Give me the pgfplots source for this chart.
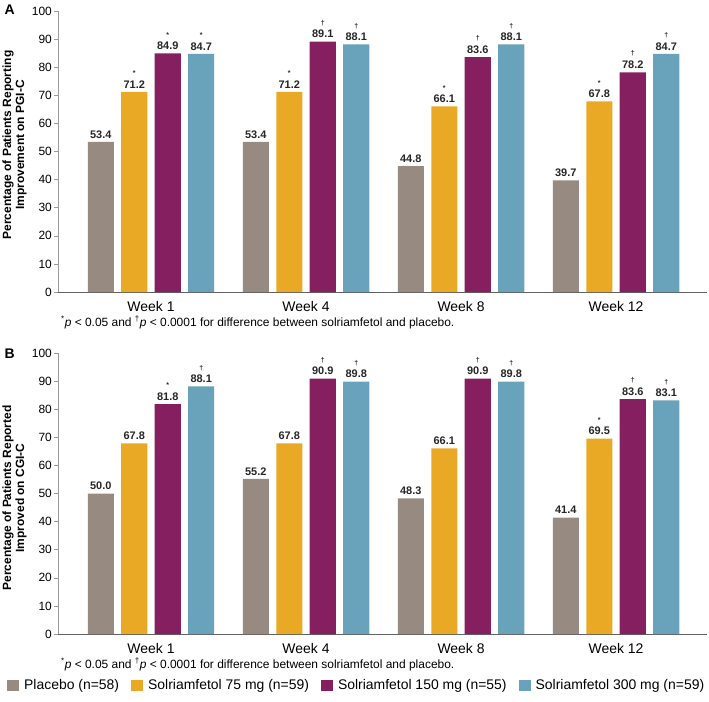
\documentclass[border=0pt]{standalone}
\usepackage{fontspec}
\setmainfont{Liberation Sans}
\usepackage{pgfplots}
\usepackage{pgfplotstable}
\pgfplotsset{compat=1.18}

\definecolor{cpla}{HTML}{978B81}
\definecolor{cse}{HTML}{E9A924}
\definecolor{cone}{HTML}{861F5F}
\definecolor{cthr}{HTML}{68A3BB}

% sig columns: 0 = no mark, 1 = *, 2 = dagger
\pgfplotstableread{
x p ps a as b bs c cs
0 53.4 0 71.2 1 84.9 1 84.7 1
1 53.4 0 71.2 1 89.1 2 88.1 2
2 44.8 0 66.1 1 83.6 2 88.1 2
3 39.7 0 67.8 1 78.2 2 84.7 2
}\tabA

\pgfplotstableread{
x p ps a as b bs c cs
0 50.0 0 67.8 0 81.8 1 88.1 2
1 55.2 0 67.8 0 90.9 2 89.8 2
2 48.3 0 66.1 0 90.9 2 89.8 2
3 41.4 0 69.5 1 83.6 2 83.1 2
}\tabB

\newcommand\sigline{{\fontsize{7}{7}\selectfont\ifdim\sig pt<0.5pt\relax\else\ifdim\sig pt<1.5pt *\else †\fi\fi}}

\pgfplotsset{
  panel/.style={
    scale only axis, width=649bp, height=281bp,
    xmin=-0.6, xmax=3.587, ymin=0, ymax=100,
    axis x line*=bottom, axis y line*=left,
    clip=false,
    ytick={0,10,...,100},
    xtick={0,1,2,3}, xticklabels={Week 1,Week 4,Week 8,Week 12},
    x axis line style={draw=black!62, line width=0.9pt},
    y axis line style={draw=black!40, line width=0.6pt},
    ytick style={draw=black!40, line width=0.6pt},
    xtick style={draw=none},
    tick align=outside, major tick length=4bp,
    /pgf/number format/assume math mode=true,
    yticklabel style={font=\fontsize{12}{14}\selectfont, inner sep=2bp},
    xticklabel style={font=\fontsize{14}{16}\selectfont, anchor=base, yshift=-15bp},
    ybar, bar width=0.168,
    nodes near coords={\sigline\\\pgfmathprintnumber[fixed,fixed zerofill,precision=1]{\pgfplotspointmeta}},
    every node near coord/.append style={font=\fontsize{11}{12.5}\selectfont\bfseries, align=center, anchor=south, inner sep=0pt, yshift=3.5bp, text=black!85},
  },
}

\begin{document}
\begin{tikzpicture}[x=1bp,y=1bp]
\path[use as bounding box] (0,0) rectangle (709,-702);

\begin{axis}[panel, at={(58bp,-292bp)}, anchor=south west]
\addplot[fill=cpla, draw=none, bar shift=-0.324, visualization depends on={\thisrow{ps}\as\sig}] table[x=x,y=p]{\tabA};
\addplot[fill=cse, draw=none, bar shift=-0.108, visualization depends on={\thisrow{as}\as\sig}] table[x=x,y=a]{\tabA};
\addplot[fill=cone, draw=none, bar shift=0.108, visualization depends on={\thisrow{bs}\as\sig}] table[x=x,y=b]{\tabA};
\addplot[fill=cthr, draw=none, bar shift=0.324, visualization depends on={\thisrow{cs}\as\sig}] table[x=x,y=c]{\tabA};
\end{axis}

\begin{axis}[panel, at={(58bp,-634bp)}, anchor=south west,
  legend columns=4,
  legend image code/.code={\fill[#1] (0bp,-5.5bp) rectangle (12bp,5.5bp);},
  legend style={at={(-0.0786,-0.183)}, anchor=west, draw=none, fill=none, inner sep=0pt,
    font=\fontsize{14}{16}\selectfont, legend cell align=left,
    /tikz/every odd column/.append style={column sep=3bp},
    /tikz/every even column/.append style={column sep=10bp}},
  ]
\addplot[fill=cpla, draw=none, bar shift=-0.324, visualization depends on={\thisrow{ps}\as\sig}] table[x=x,y=p]{\tabB};
\addplot[fill=cse, draw=none, bar shift=-0.108, visualization depends on={\thisrow{as}\as\sig}] table[x=x,y=a]{\tabB};
\addplot[fill=cone, draw=none, bar shift=0.108, visualization depends on={\thisrow{bs}\as\sig}] table[x=x,y=b]{\tabB};
\addplot[fill=cthr, draw=none, bar shift=0.324, visualization depends on={\thisrow{cs}\as\sig}] table[x=x,y=c]{\tabB};
\legend{Placebo (n=58), Solriamfetol 75 mg (n=59), Solriamfetol 150 mg (n=55), Solriamfetol 300 mg (n=59)}
\end{axis}

\node[anchor=base west, font=\fontsize{14}{14}\selectfont\bfseries] at (1,-15) {A};
\node[anchor=base west, font=\fontsize{14}{14}\selectfont\bfseries] at (1,-358) {B};

\node[rotate=90, align=center, font=\fontsize{12}{13}\selectfont\bfseries] at (14.5,-145)
  {Percentage of Patients Reporting\\Improvement on PGI-C};
\node[rotate=90, align=center, font=\fontsize{12}{13}\selectfont\bfseries] at (14.5,-498)
  {Percentage of Patients Reported\\Improved on CGI-C};

\node[anchor=base west, font=\fontsize{12}{14}\selectfont, inner sep=0pt] at (61,-326)
  {\textsuperscript{*}\textit{p} < 0.05 and \textsuperscript{†}\textit{p} < 0.0001 for difference between solriamfetol and placebo.};
\node[anchor=base west, font=\fontsize{12}{14}\selectfont, inner sep=0pt] at (61,-668)
  {\textsuperscript{*}\textit{p} < 0.05 and \textsuperscript{†}\textit{p} < 0.0001 for difference between solriamfetol and placebo.};
\end{tikzpicture}
\end{document}
